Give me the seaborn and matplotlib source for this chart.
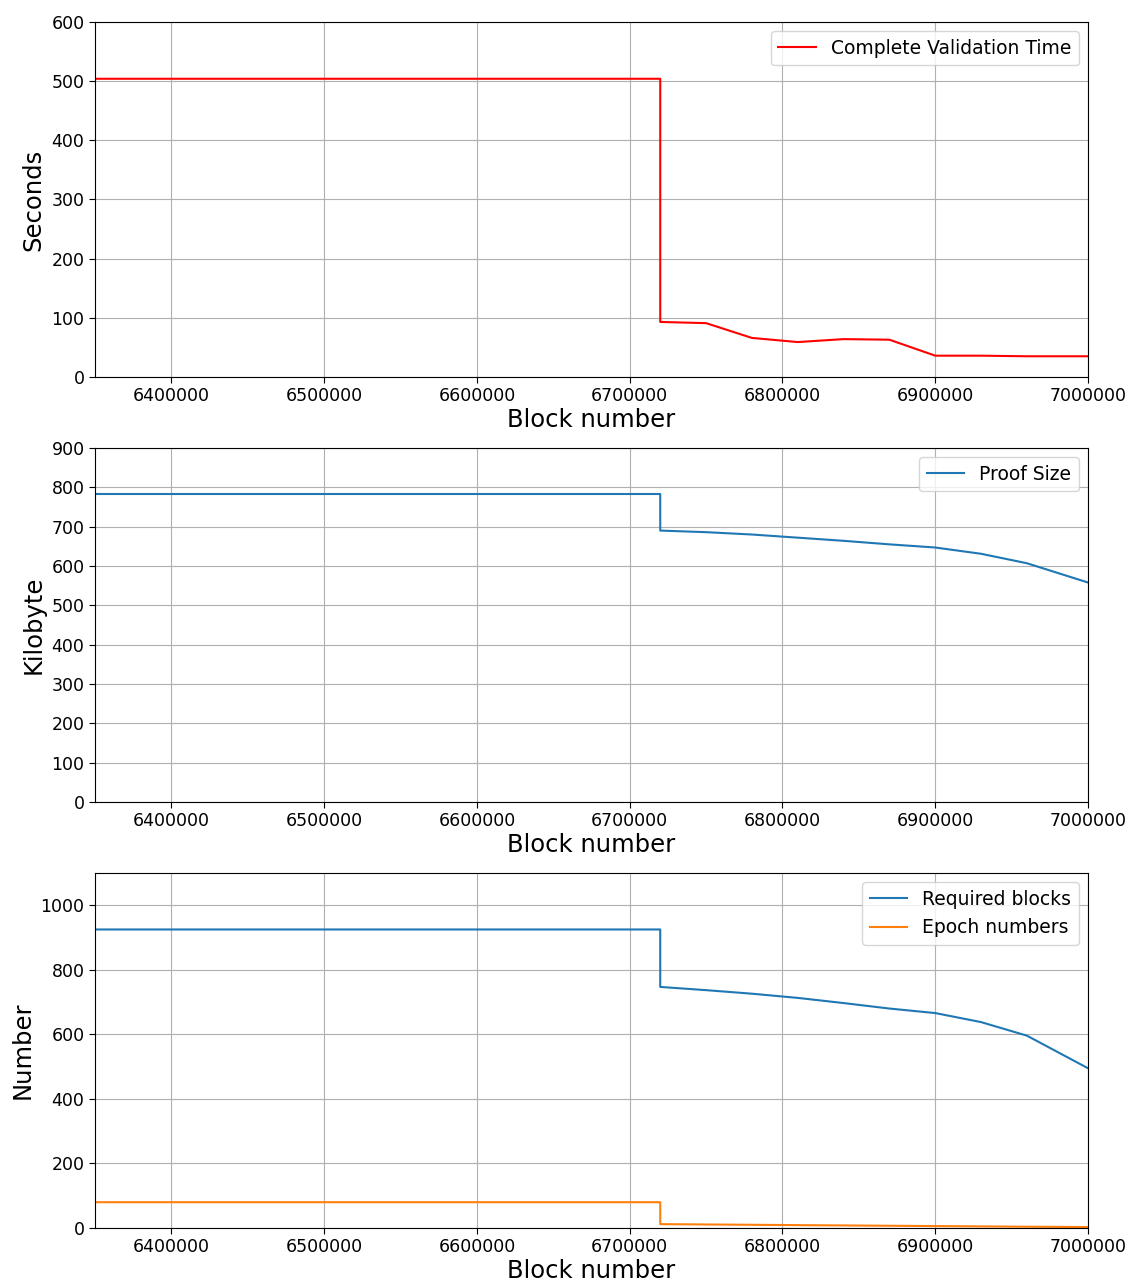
import matplotlib
matplotlib.use("Agg")
import matplotlib.pyplot as plt
import seaborn as sns
import pandas as pd

# Block heights (checkpoints every 30000 blocks after the switch at 6720000)
blocks_before = [6300000, 6720000]
blocks_after = [6720000, 6750000, 6780000, 6810000, 6840000, 6870000,
                6900000, 6930000, 6960000, 7000000]

# Complete validation time in seconds
time_before = [504, 504]
time_after = [93, 91, 66, 59, 64, 63, 36, 36, 35, 35]

# Proof size in kilobytes
proof_before = [783, 783]
proof_after = [690, 686, 680, 672, 664, 655, 647, 631, 607, 558]

# Required blocks and epoch numbers
req_before = [925, 925]
req_after = [747, 737, 726, 713, 697, 680, 666, 638, 596, 495]
epoch_before = [80, 80]
epoch_after = [12, 11, 10, 9, 8, 7, 6, 5, 4, 3]

xticks = [6400000, 6500000, 6600000, 6700000, 6800000, 6900000, 7000000]

plt.rcParams.update({
    "font.family": ["DejaVu Sans"],
    "axes.grid": True,
    "grid.color": "#b0b0b0",
    "grid.linewidth": 0.8,
    "axes.edgecolor": "black",
    "axes.linewidth": 0.8,
    "xtick.direction": "out",
    "ytick.direction": "out",
    "legend.fancybox": True,
    "legend.framealpha": 0.8,
})

fig = plt.figure(figsize=(11.33, 12.84), dpi=100)
positions = [
    [0.0838, 0.7064, 0.8765, 0.2765],
    [0.0838, 0.3754, 0.8765, 0.2757],
    [0.0838, 0.0436, 0.8765, 0.2765],
]


def series(xb, yb, xa, ya, label):
    return pd.DataFrame({"block": xb + xa, "value": yb + ya, "series": label})


panels = [
    ([series(blocks_before, time_before, blocks_after, time_after,
             "Complete Validation Time")], ["red"], "Seconds", (0, 600),
     [0, 100, 200, 300, 400, 500, 600]),
    ([series(blocks_before, proof_before, blocks_after, proof_after,
             "Proof Size")], ["#1f77b4"], "Kilobyte", (0, 900),
     list(range(0, 901, 100))),
    ([series(blocks_before, req_before, blocks_after, req_after,
             "Required blocks"),
      series(blocks_before, epoch_before, blocks_after, epoch_after,
             "Epoch numbers")], ["#1f77b4", "#ff7f0e"], "Number", (0, 1100),
     [0, 200, 400, 600, 800, 1000]),
]

for pos, (frames, colors, ylabel, ylim, yticks) in zip(positions, panels):
    ax = fig.add_axes(pos)
    for df, color in zip(frames, colors):
        sns.lineplot(data=df, x="block", y="value", ax=ax, color=color,
                     estimator=None, sort=False, linewidth=1.5,
                     label=df["series"].iloc[0])
    ax.set_xlim(6350000, 7000000)
    ax.set_ylim(*ylim)
    ax.set_xticks(xticks)
    ax.set_xticklabels([str(t) for t in xticks])
    ax.set_yticks(yticks)
    ax.tick_params(labelsize=12.5, length=4, width=0.8)
    ax.set_xlabel("Block number", fontsize=17.5, labelpad=2)
    ax.set_ylabel(ylabel, fontsize=17.5)
    ax.grid(True, color="#b0b0b0", linewidth=0.8)
    ax.legend(loc="upper right", fontsize=13.5)

fig.savefig("out.png", dpi=100)
